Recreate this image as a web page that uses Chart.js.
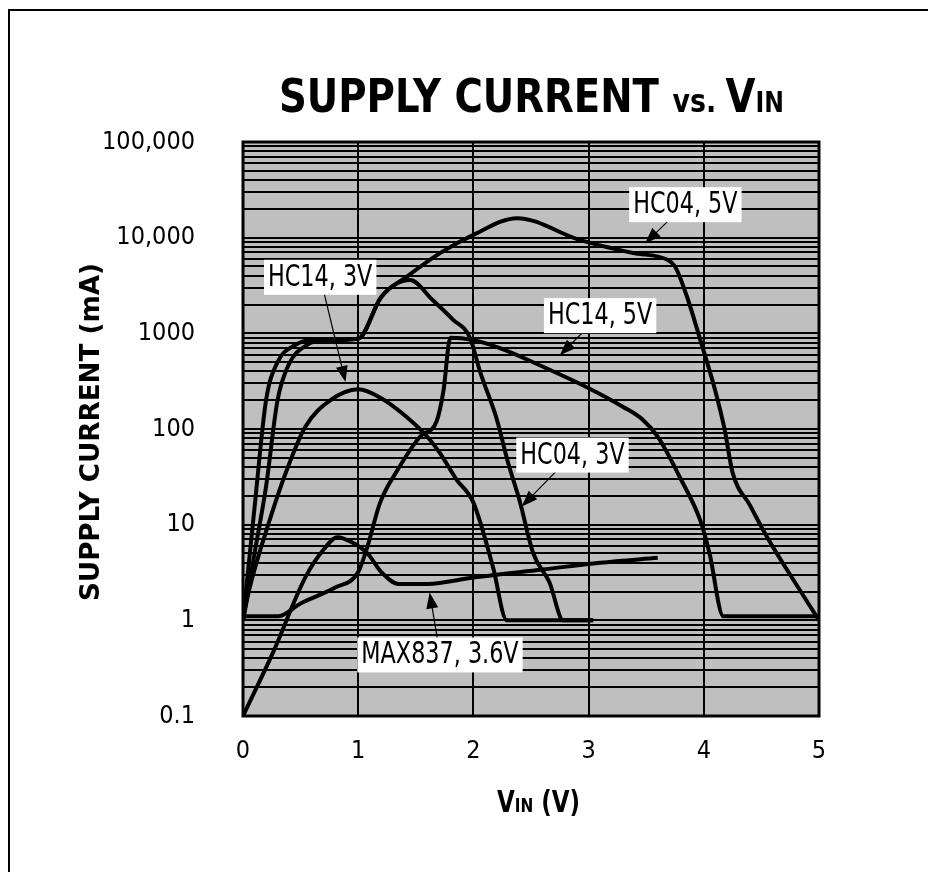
<!DOCTYPE html>
<html>
<head>
<meta charset="utf-8">
<script src="https://cdn.jsdelivr.net/npm/chart.js@4.4.1/dist/chart.umd.min.js"></script>
<style>
  html, body { margin: 0; padding: 0; background: #fff; }
  #wrap { position: relative; width: 928px; height: 872px; overflow: hidden; }
  #edge { position: absolute; left: 8px; top: 9px; width: 1000px; height: 1000px;
          border-left: 2px solid #000; border-top: 2px solid #000; }
  canvas { position: absolute; left: 0; top: 0; }
</style>
</head>
<body>
<div id="wrap">
  <div id="edge"></div>
  <canvas id="chart" width="928" height="872"></canvas>
</div>
<script>
// values (x = VIN in volts, y = supply current in mA)
const hc04_5v_v  = [0, 0.1, 0.2, 0.3, 0.45, 0.6, 1.0, 1.2, 1.42, 1.71, 2.0, 2.38, 2.92, 3.39, 3.68, 3.75, 3.85, 3.97, 4.1, 4.18, 4.25, 4.4, 4.55, 4.8, 5.0];
const hc04_5v_ma = [1, 15, 200, 500, 750, 850, 880, 2400, 3900, 6900, 10700, 16000, 9500, 6900, 5900, 5000, 2500, 850, 250, 100, 35, 16, 7.4, 2.4, 1];

const hc04_3v_v  = [0, 0.1, 0.2, 0.3, 0.4, 0.55, 0.7, 1.0, 1.2, 1.45, 1.65, 1.82, 1.97, 2.06, 2.2, 2.3, 2.4, 2.52, 2.66, 2.78, 3.04];
const hc04_3v_ma = [1, 5, 25, 200, 480, 750, 850, 880, 2400, 3600, 2200, 1400, 900, 390, 130, 45, 18, 5, 2.5, 1, 1];

const hc14_3v_v  = [0, 0.05, 0.24, 0.39, 0.54, 0.76, 1.0, 1.2, 1.4, 1.6, 1.71, 1.85, 2.0, 2.17, 2.29, 3.04];
const hc14_3v_ma = [1, 2, 12, 40, 105, 200, 260, 210, 140, 83, 56, 30, 17, 3.6, 1, 1];

const hc14_5v_v  = [0, 0.3, 0.5, 0.8, 1.0, 1.08, 1.19, 1.34, 1.54, 1.68, 1.74, 1.8, 2.0, 2.23, 2.6, 2.98, 3.3, 3.47, 3.6, 3.8, 3.97, 4.05, 4.17, 5.0];
const hc14_5v_ma = [1.1, 1.1, 1.5, 2.2, 3.2, 5.9, 17, 37, 84, 120, 250, 900, 850, 700, 450, 275, 170, 125, 83, 30, 11, 5, 1.1, 1.1];

const max837_v  = [0, 0.26, 0.54, 0.7, 0.82, 0.95, 1.08, 1.2, 1.35, 1.6, 2.0, 2.6, 3.1, 3.6];
const max837_ma = [0.1, 0.46, 2.8, 5.5, 7.4, 6.5, 5, 3.2, 2.4, 2.4, 2.8, 3.4, 4, 4.5];

const yTickValues = [0.1, 1, 10, 100, 1000, 10000, 100000];
const yTickLabels = ['0.1', '1', '10', '100', '1000', '10,000', '100,000'];
const xTickLabels = ['0', '1', '2', '3', '4', '5'];

const curveNames = ['HC04, 5V', 'HC04, 3V', 'HC14, 3V', 'HC14, 5V', 'MAX837, 3.6V'];

// callouts: label centre and arrow tip, both in data units
const callouts = [
  { text: 'HC04, 5V',     at: [3.84, 22400], tip: [3.49, 8700] },
  { text: 'HC14, 3V',     at: [0.67, 3900],  tip: [0.89, 310] },
  { text: 'HC14, 5V',     at: [3.10, 1550],  tip: [2.75, 590] },
  { text: 'HC04, 3V',     at: [2.86, 54],    tip: [2.42, 15.5] },
  { text: 'MAX837, 3.6V', at: [1.71, 0.44],  tip: [1.62, 1.95] },
];

function pts(xs, ys) {
  return xs.map((x, i) => ({ x: x, y: ys[i] }));
}

const NARROW = "'Liberation Sans Narrow', 'DejaVu Sans Condensed', sans-serif";
const BOLD = "'DejaVu Sans Condensed', 'Liberation Sans Narrow', sans-serif";

// draws several pieces of text on one baseline, squeezed to a given width
function drawRun(ctx, segs, x0, base, width) {
  let natural = 0;
  segs.forEach(s => { ctx.font = s.font; natural += ctx.measureText(s.text).width; });
  const k = width / natural;
  ctx.save();
  ctx.translate(x0, base);
  ctx.scale(k, 1);
  ctx.textBaseline = 'alphabetic';
  ctx.textAlign = 'left';
  let x = 0;
  segs.forEach(s => {
    ctx.font = s.font;
    ctx.fillText(s.text, x, 0);
    x += ctx.measureText(s.text).width;
  });
  ctx.restore();
}

const decor = {
  id: 'decor',
  beforeDraw(chart) {
    const { ctx, chartArea: a } = chart;
    ctx.save();
    ctx.fillStyle = '#bfbfbf';
    ctx.fillRect(a.left, a.top, a.right - a.left, a.bottom - a.top);
    ctx.restore();
  },
  afterDatasetsDraw(chart) {
    const { ctx, chartArea: a } = chart;
    const xs = chart.scales.x, ys = chart.scales.y;
    ctx.save();
    ctx.strokeStyle = '#000';
    ctx.lineWidth = 3;
    ctx.strokeRect(a.left, a.top, a.right - a.left, a.bottom - a.top);

    // callouts
    const squeeze = 0.8;
    ctx.font = '31px ' + NARROW;
    callouts.forEach(c => {
      const cx = xs.getPixelForValue(c.at[0]), cy = ys.getPixelForValue(c.at[1]);
      const tx = xs.getPixelForValue(c.tip[0]), ty = ys.getPixelForValue(c.tip[1]);
      const ang = Math.atan2(ty - cy, tx - cx);
      ctx.strokeStyle = '#000';
      ctx.lineWidth = 1.2;
      ctx.beginPath();
      ctx.moveTo(cx, cy);
      ctx.lineTo(tx - 12 * Math.cos(ang), ty - 12 * Math.sin(ang));
      ctx.stroke();
      ctx.fillStyle = '#000';
      ctx.beginPath();
      ctx.moveTo(tx, ty);
      ctx.lineTo(tx - 16 * Math.cos(ang) + 6 * Math.sin(ang), ty - 16 * Math.sin(ang) - 6 * Math.cos(ang));
      ctx.lineTo(tx - 16 * Math.cos(ang) - 6 * Math.sin(ang), ty - 16 * Math.sin(ang) + 6 * Math.cos(ang));
      ctx.closePath();
      ctx.fill();
      const w = ctx.measureText(c.text).width * squeeze + 8;
      ctx.fillStyle = '#fff';
      ctx.fillRect(cx - w / 2, cy - 17, w, 35);
      ctx.fillStyle = '#000';
      ctx.textAlign = 'center';
      ctx.textBaseline = 'middle';
      ctx.save();
      ctx.translate(cx, cy + 1);
      ctx.scale(squeeze, 1);
      ctx.fillText(c.text, 0, 0);
      ctx.restore();
    });
    ctx.restore();
  },
  afterDraw(chart) {
    const ctx = chart.ctx;
    ctx.save();
    ctx.fillStyle = '#000';
    // main title
    drawRun(ctx, [
      { text: 'SUPPLY CURRENT ', font: 'bold 46px ' + BOLD },
      { text: 'vs. ', font: 'bold 32px ' + BOLD },
      { text: 'V', font: 'bold 46px ' + BOLD },
      { text: 'IN', font: 'bold 28px ' + BOLD },
    ], 279, 112, 505);
    // x axis title
    drawRun(ctx, [
      { text: 'V', font: 'bold 30px ' + BOLD },
      { text: 'IN', font: 'bold 20px ' + BOLD },
      { text: ' (V)', font: 'bold 30px ' + BOLD },
    ], 497, 812, 83);
    // y axis title
    ctx.save();
    ctx.translate(99, 432);
    ctx.rotate(-Math.PI / 2);
    drawRun(ctx, [{ text: 'SUPPLY CURRENT (mA)', font: 'bold 27px ' + BOLD }], -169, 0, 338);
    ctx.restore();
    ctx.restore();
  }
};

const lineStyle = {
  borderColor: '#000',
  borderWidth: 4,
  pointRadius: 0,
  fill: false,
  cubicInterpolationMode: 'monotone',
};

const chart = new Chart(document.getElementById('chart'), {
  type: 'line',
  data: {
    datasets: [
      { label: curveNames[0], data: pts(hc04_5v_v, hc04_5v_ma), ...lineStyle },
      { label: curveNames[1], data: pts(hc04_3v_v, hc04_3v_ma), ...lineStyle },
      { label: curveNames[2], data: pts(hc14_3v_v, hc14_3v_ma), ...lineStyle },
      { label: curveNames[3], data: pts(hc14_5v_v, hc14_5v_ma), ...lineStyle },
      { label: curveNames[4], data: pts(max837_v, max837_ma), ...lineStyle },
    ],
  },
  options: {
    responsive: false,
    animation: false,
    devicePixelRatio: 1,
    layout: { padding: { top: 142, right: 109, left: 0, bottom: 0 } },
    plugins: { legend: { display: false }, tooltip: { enabled: false } },
    scales: {
      x: {
        type: 'linear',
        min: 0,
        max: 5,
        afterFit: s => { s.height = 156; },
        grid: { color: '#000', lineWidth: 2, drawTicks: false },
        border: { display: false },
        ticks: {
          stepSize: 1,
          padding: 20,
          color: '#000',
          font: { family: NARROW, size: 25 },
          callback: v => xTickLabels[v],
        },
      },
      y: {
        type: 'logarithmic',
        min: 0.1,
        max: 100000,
        afterFit: s => { s.width = 243; },
        afterBuildTicks: s => {
          const t = [];
          for (let i = 0; i < yTickValues.length - 1; i++) {
            for (let k = 1; k <= 9; k++) t.push({ value: yTickValues[i] * k });
          }
          t.push({ value: yTickValues[yTickValues.length - 1] });
          s.ticks = t;
        },
        grid: { color: '#000', lineWidth: 2, drawTicks: false },
        border: { display: false },
        ticks: {
          autoSkip: false,
          padding: 48,
          color: '#000',
          font: { family: NARROW, size: 25 },
          callback: v => {
            const i = yTickValues.indexOf(v);
            return i >= 0 ? yTickLabels[i] : '';
          },
        },
      },
    },
  },
  plugins: [decor],
});
</script>
</body>
</html>
